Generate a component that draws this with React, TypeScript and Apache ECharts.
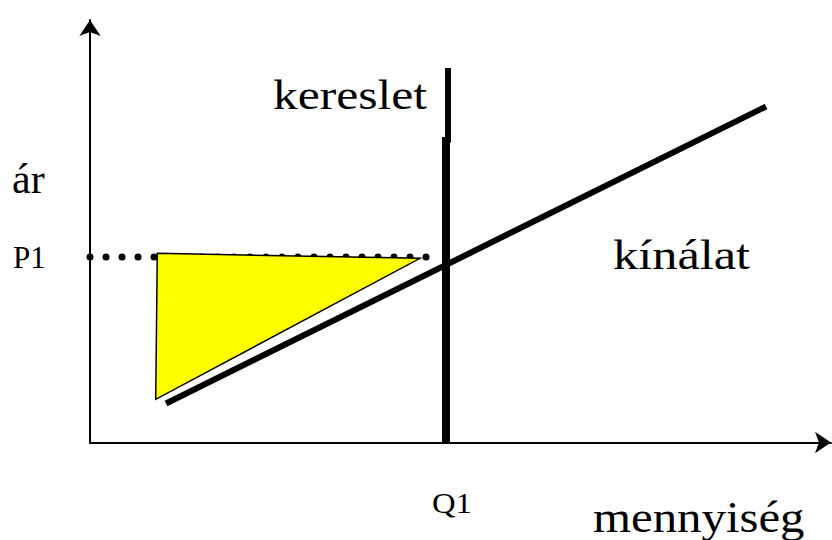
import React, { useEffect, useRef } from "react";
import * as echarts from "echarts";

// Schematic market diagram, data in axis units (x: quantity, y: price)
const demandUpper: number[][] = [
  [358, 374.5],
  [358, 300],
];
const demandLower: number[][] = [
  [356, 305.5],
  [356, 0],
];
const supply: number[][] = [
  [76, 39],
  [676, 336],
];
const surplusTriangle: number[][] = [
  [67.3, 189.2],
  [330, 184.2],
  [65.7, 43.2],
];
const priceLevel: number[][] = [
  [0, 185.5],
  [352, 185.5],
];

const demandLabel = "kereslet";
const supplyLabel = "kínálat";
const yAxisName = "ár";
const xAxisName = "mennyiség";
const priceTick = "P1";
const quantityTick = "Q1";

const FONT = '"Liberation Serif", "Times New Roman", serif';

export default function App() {
  const ref = useRef<HTMLDivElement>(null);

  useEffect(() => {
    document.body.style.margin = "0";
    if (!ref.current) return;
    const chart = echarts.init(ref.current, undefined, { renderer: "svg" });

    const axisLine = {
      show: true,
      symbol: ["none", "arrow"],
      symbolSize: [16, 16],
      lineStyle: { color: "#000", width: 2 },
    };

    const txt = (text: string, x: number, y: number, size: number, scaleX = 1) => ({
      type: "text",
      x,
      y,
      scaleX,
      z: 100,
      style: {
        text,
        x: 0,
        y: 0,
        fill: "#000",
        fontSize: size,
        fontFamily: FONT,
        align: "left",
        verticalAlign: "middle",
      },
    });

    chart.setOption({
      animation: false,
      backgroundColor: "#fff",
      grid: { left: 90, top: 20, width: 741, height: 422.5 },
      xAxis: {
        type: "value",
        min: 0,
        max: 741,
        axisLine,
        axisTick: { show: false },
        axisLabel: { show: false },
        splitLine: { show: false },
      },
      yAxis: {
        type: "value",
        min: 0,
        max: 422.5,
        axisLine,
        axisTick: { show: false },
        axisLabel: { show: false },
        splitLine: { show: false },
      },
      series: [
        {
          type: "line",
          data: priceLevel,
          symbol: "none",
          clip: false,
          z: 2,
          lineStyle: { color: "#000", width: 7, type: [0, 16], cap: "round" },
        },
        {
          type: "custom",
          z: 3,
          clip: false,
          data: [0],
          renderItem: (params: any, api: any) => {
            const pts = surplusTriangle.map((p) => api.coord(p));
            return {
              type: "polygon",
              shape: { points: pts },
              style: { fill: "#ffff00", stroke: "#000", lineWidth: 1.5 },
            };
          },
        },
        {
          type: "line",
          data: supply,
          symbol: "none",
          clip: false,
          z: 4,
          lineStyle: { color: "#000", width: 6, cap: "butt" },
        },
        {
          type: "line",
          data: demandUpper,
          symbol: "none",
          clip: false,
          z: 5,
          lineStyle: { color: "#000", width: 6, cap: "butt" },
        },
        {
          type: "line",
          data: demandLower,
          symbol: "none",
          clip: false,
          z: 5,
          lineStyle: { color: "#000", width: 8, cap: "butt" },
        },
      ],
      graphic: [
        txt(demandLabel, 273, 94.8, 42, 1.18),
        txt(yAxisName, 12, 178.8, 42),
        txt(priceTick, 13, 257.5, 31),
        txt(supplyLabel, 613, 254.8, 42, 1.2),
        txt(quantityTick, 432, 502.9, 30, 1.09),
        txt(xAxisName, 593, 517, 44, 1.11),
      ],
    });

    return () => chart.dispose();
  }, []);

  return <div ref={ref} style={{ width: 832, height: 540 }} />;
}
